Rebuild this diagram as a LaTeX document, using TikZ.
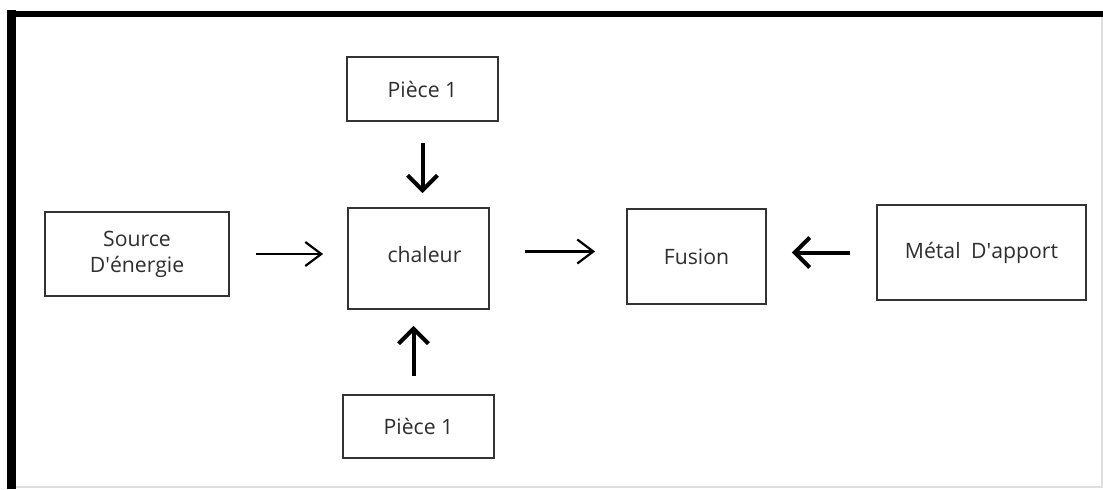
\documentclass[tikz,border=0pt]{standalone}
\usepackage{fontspec}
\setmainfont{Open Sans}
\usetikzlibrary{arrows.meta}
\definecolor{boxgray}{rgb}{0.2,0.2,0.2}
\definecolor{textgray}{rgb}{0.18,0.18,0.18}
\newcommand{\apos}{\textquotesingle}

\begin{document}
\begin{tikzpicture}[x=0.5pt, y=-0.5pt,
    txt/.style={text=textgray, font=\fontsize{10.6}{13}\selectfont, align=center},
    blk/.style={draw=boxgray, line width=0.9pt, txt, inner sep=0pt},
    thinarr/.style={-{Straight Barb[length=8pt,width=12pt]}, line width=1.1pt},
    thickarr/.style={-{Straight Barb[length=7.5pt,width=15pt]}, line width=2pt}]
\useasboundingbox (0,0) rectangle (1103,489);

    % Frame
    \draw[line width=4.2pt] (11.5,489) -- (11.5,10);
    \draw[line width=3.2pt] (7.3,14.2) -- (1103,14.2);
    \draw[gray!25, line width=0.6pt] (1102,17) -- (1102,487) -- (16,487);

    % Blocks
    \node[blk, minimum width=92pt, minimum height=42pt] (source) at (137,254) {Source\\D\apos énergie};
    \node[blk, minimum width=70.5pt, minimum height=50.5pt,
          label={[txt, xshift=3pt, yshift=1.75pt]center:chaleur}] (chaleur) at (418.5,258.5) {};
    \node[blk, minimum width=75.5pt, minimum height=32pt] (ptop) at (422.5,89) {Pièce 1};
    \node[blk, minimum width=75.5pt, minimum height=31.5pt] (pbot) at (418.5,426.5) {Pièce 1};
    \node[blk, minimum width=69.5pt, minimum height=47.5pt] (fusion) at (696.5,256.5) {Fusion};
    \node[blk, minimum width=104.5pt, minimum height=47.5pt] (metal) at (981.5,252.5) {Métal\hspace{0.5em}D\apos apport};

    % Arrows
    \draw[thinarr, shorten <=13pt, shorten >=12pt] (source.east) -- (source.east -| chaleur.west);
    \draw[thinarr, shorten <=17.5pt, shorten >=15.5pt] ([yshift=3.5pt]chaleur.east) -- ([yshift=3.5pt]chaleur.east -| fusion.west);
    \draw[thickarr, shorten <=13pt, shorten >=12.5pt] (metal.west) -- (metal.west -| fusion.east);
    \draw[thickarr, shorten <=10.5pt, shorten >=7pt] (ptop.south) -- (ptop.south |- chaleur.north);
    \draw[thickarr, shorten <=9pt, shorten >=8pt] ([xshift=-2.5pt]pbot.north) -- ([xshift=-2.5pt]pbot.north |- chaleur.south);
\end{tikzpicture}
\end{document}
